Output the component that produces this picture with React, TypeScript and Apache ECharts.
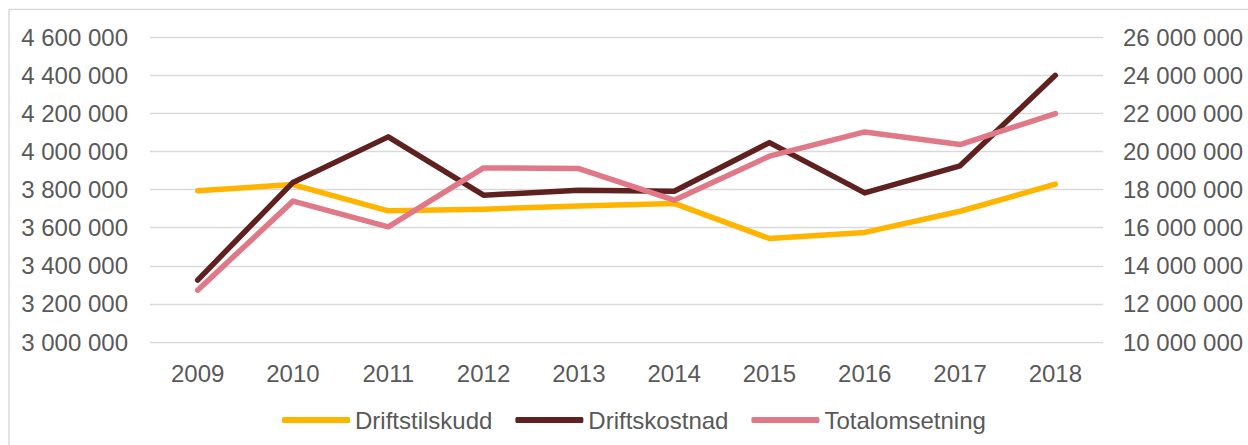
import React, { useEffect, useRef } from "react";
import * as echarts from "echarts";

const years = ["2009", "2010", "2011", "2012", "2013", "2014", "2015", "2016", "2017", "2018"];
const driftstilskudd = [3793000, 3826000, 3688000, 3697000, 3713000, 3727000, 3543000, 3575000, 3686000, 3828000];
const driftskostnad = [13250000, 18370000, 20760000, 17700000, 17960000, 17910000, 20460000, 17820000, 19240000, 23990000];
const totalomsetning = [12720000, 17390000, 16040000, 19130000, 19100000, 17440000, 19750000, 21020000, 20360000, 21980000];

const seriesNames = ["Driftstilskudd", "Driftskostnad", "Totalomsetning"];
const colors = ["#FFB500", "#5F2120", "#E07888"];

const leftAxis = { min: 3000000, max: 4600000, interval: 200000 };
const rightAxis = { min: 10000000, max: 26000000, interval: 2000000 };

const fmt = (v: number) => String(v).replace(/\B(?=(\d{3})+(?!\d))/g, " ");

export default function App() {
  const ref = useRef<HTMLDivElement>(null);
  useEffect(() => {
    if (!ref.current) return;
    const chart = echarts.init(ref.current, null, { renderer: "svg" });
    const font = "Liberation Sans, Arial, sans-serif";
    const labelStyle = { fontSize: 24, color: "#595959", fontFamily: font };
    chart.setOption({
      animation: false,
      backgroundColor: "#ffffff",
      graphic: [
        {
          type: "rect",
          shape: { x: 9, y: 9.5, width: 1400, height: 600 },
          style: { fill: "none", stroke: "#d9d9d9", lineWidth: 1.5 },
          silent: true,
        },
      ],
      grid: { left: 150, right: 145, top: 37, bottom: 103, containLabel: false },
      legend: {
        left: 282,
        top: 408,
        padding: 0,
        itemGap: 23,
        itemWidth: 68,
        itemHeight: 6,
        icon: "roundRect",
        data: seriesNames,
        textStyle: { ...labelStyle },
      },
      xAxis: {
        type: "category",
        data: years,
        boundaryGap: true,
        axisLine: { show: false },
        axisTick: { show: false },
        axisLabel: { ...labelStyle, margin: 19 },
        splitLine: { show: false },
      },
      yAxis: [
        {
          type: "value",
          position: "left",
          ...leftAxis,
          axisLine: { show: false },
          axisTick: { show: false },
          axisLabel: { ...labelStyle, margin: 22, formatter: fmt },
          splitLine: { show: true, lineStyle: { color: "#d9d9d9", width: 1.4 } },
        },
        {
          type: "value",
          position: "right",
          ...rightAxis,
          axisLine: { show: false },
          axisTick: { show: false },
          axisLabel: { ...labelStyle, margin: 20, formatter: fmt },
          splitLine: { show: false },
        },
      ],
      series: [
        { name: seriesNames[0], data: driftstilskudd, yAxisIndex: 0 },
        { name: seriesNames[1], data: driftskostnad, yAxisIndex: 1 },
        { name: seriesNames[2], data: totalomsetning, yAxisIndex: 1 },
      ].map((s, i) => ({
        ...s,
        type: "line",
        showSymbol: false,
        symbol: "none",
        color: colors[i],
        lineStyle: { color: colors[i], width: 5.5, cap: "round", join: "round" },
      })),
    });
    return () => chart.dispose();
  }, []);
  return (
    <div
      ref={ref}
      style={{ position: "fixed", left: 0, top: 0, width: 1248, height: 445 }}
    />
  );
}
